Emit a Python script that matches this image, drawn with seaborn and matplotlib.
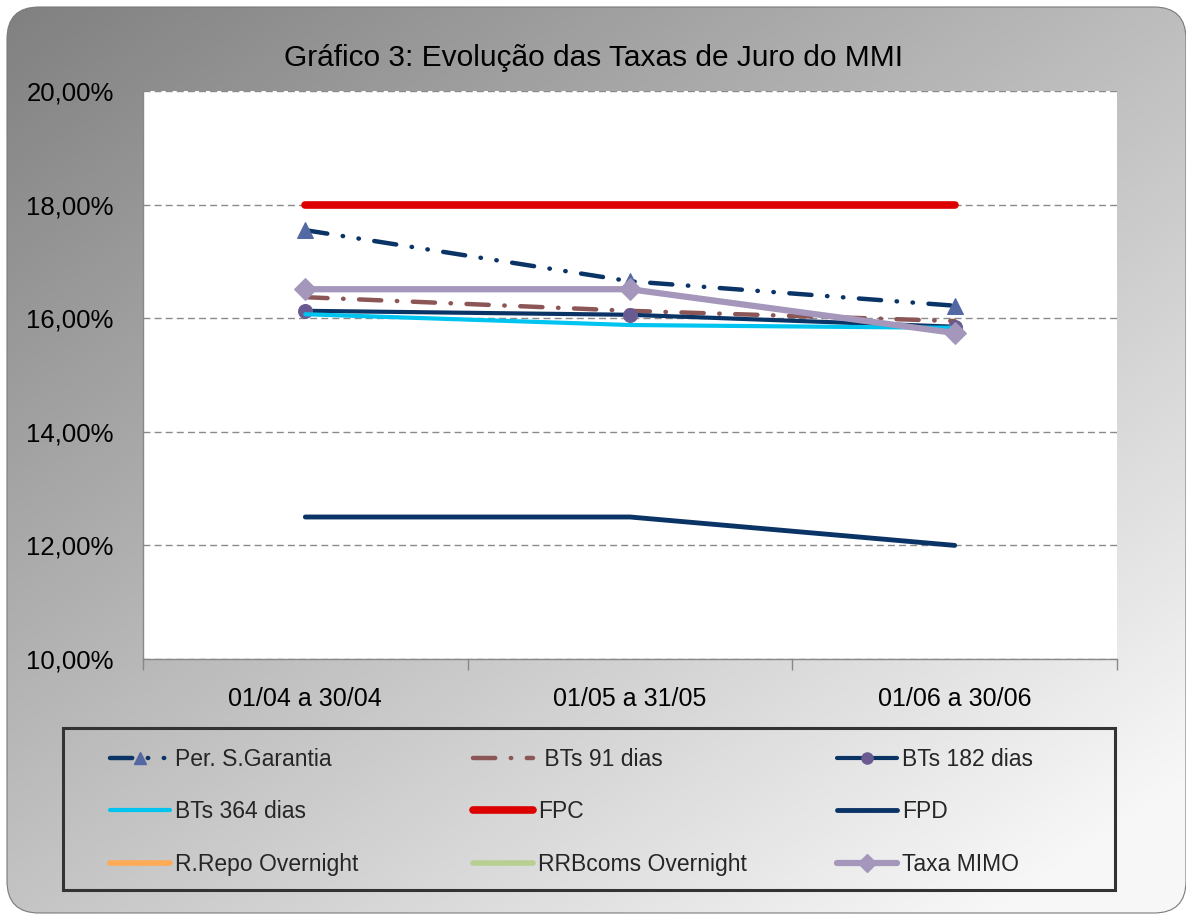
import numpy as np
import matplotlib
matplotlib.use("Agg")
import matplotlib.pyplot as plt
import seaborn as sns
from matplotlib import font_manager
from matplotlib.patches import FancyBboxPatch, Rectangle
from matplotlib.lines import Line2D
from matplotlib.ticker import FuncFormatter, FixedLocator

# ---------------- data ----------------
periods = ["01/04 a 30/04", "01/05 a 31/05", "01/06 a 30/06"]
per_s_garantia = [17.55, 16.65, 16.22]
bts_91 = [16.37, 16.13, 15.95]
bts_182 = [16.13, 16.06, 15.85]
bts_364 = [16.07, 15.88, 15.83]
fpc = [18.0, 18.0, 18.0]
fpd = [12.5, 12.5, 12.0]
r_repo = [np.nan, np.nan, 15.76]
rrbcoms = [np.nan, np.nan, 15.76]
taxa_mimo = [16.51, 16.51, 15.74]
title = "Gráfico 3: Evolução das Taxas de Juro do MMI"
yticks = [10, 12, 14, 16, 18, 20]

sns.set_theme(style="white")
names = {f.name for f in font_manager.fontManager.ttflist}
narrow = "Liberation Sans Narrow" in names
if narrow:
    fam = ["Liberation Sans Narrow", "Liberation Sans", "DejaVu Sans"]
else:
    fam = ["Liberation Sans", "DejaVu Sans"]
plt.rcParams['font.family'] = fam
k = 1.0 if not narrow else 1.15  # size factor

W, H = 1186, 918
fig = plt.figure(figsize=(W / 100, H / 100), dpi=100)
fig.patch.set_facecolor("white")

# background gradient frame (pixel coordinates)
bg = fig.add_axes([0, 0, 1, 1], zorder=-10)
bg.set_xlim(0, W); bg.set_ylim(H, 0); bg.axis("off")
gx, gy = np.meshgrid(np.linspace(0, 1, 400), np.linspace(0, 1, 400))
grad = 0.50 + 0.24 * gx + 0.27 * gy
grad = np.clip(grad, 0, 0.97)
img = bg.imshow(np.dstack([grad, grad, grad]), extent=[0, W, H, 0],
                aspect="auto", zorder=0, interpolation="bilinear")
frame = FancyBboxPatch((7, 7), W - 7 + 0, H - 12,
                       boxstyle="round,pad=0,rounding_size=32",
                       facecolor="none", edgecolor="#7a7a7a", linewidth=0.8, zorder=2)
bg.add_patch(frame)
img.set_clip_path(frame)

# legend frame
bg.add_patch(Rectangle((63, 728), 1115 - 63, 890 - 728, facecolor="none",
                       edgecolor="#333333", linewidth=2.2, zorder=3))

# main axes
L, R, T, B = 143, 1117, 91, 659
ax = fig.add_axes([L / W, 1 - B / H, (R - L) / W, (B - T) / H])
ax.set_facecolor("white")

series = [
    ("Per. S.Garantia", per_s_garantia, dict(color="#0b3466", lw=3.2, ls=(0, (5, 3.5, 0.1, 3.5, 0.1, 3.5)),
                                             marker="^", ms=11, mfc="#5468a3", mec="#5468a3")),
    ("BTs 91 dias", bts_91, dict(color="#8c5656", lw=3.2, ls=(0, (5, 3.5, 0.1, 3.5)), marker=None)),
    ("BTs 182 dias", bts_182, dict(color="#0b3466", lw=3.0, ls="-", marker="o", ms=10,
                                   mfc="#6a5a92", mec="#6a5a92")),
    ("BTs 364 dias", bts_364, dict(color="#00c4f0", lw=3.0, ls="-", marker=None)),
    ("FPC", fpc, dict(color="#dd0000", lw=5.5, ls="-", marker=None)),
    ("FPD", fpd, dict(color="#0b3466", lw=3.5, ls="-", marker=None)),
    ("R.Repo Overnight", r_repo, dict(color="#ffaa55", lw=4.0, ls="-", marker=None)),
    ("RRBcoms Overnight", rrbcoms, dict(color="#b8cf92", lw=4.0, ls="-", marker=None)),
    ("Taxa MIMO", taxa_mimo, dict(color="#a497bb", lw=4.5, ls="-", marker="D", ms=11,
                                  mfc="#a497bb", mec="#a497bb")),
]

handles = {}
for name, vals, st in series:
    sns.lineplot(x=periods, y=vals, ax=ax, color=st["color"], linewidth=st["lw"],
                 linestyle=st["ls"], marker=st["marker"] if st["marker"] else None,
                 markersize=st.get("ms", 0), markerfacecolor=st.get("mfc"),
                 markeredgecolor=st.get("mec"), solid_capstyle="round",
                 dash_capstyle="round", sort=False, legend=False)
    handles[name] = Line2D([], [], color=st["color"], linewidth=st["lw"], linestyle=st["ls"],
                           marker=st["marker"], markersize=st.get("ms", 0) * 0.8,
                           markerfacecolor=st.get("mfc"), markeredgecolor=st.get("mec"),
                           solid_capstyle="round", dash_capstyle="round")

ax.set_xlim(-0.5, 2.5)
ax.set_ylim(10, 20)
ax.set_xlabel(""); ax.set_ylabel("")
ax.yaxis.set_major_locator(FixedLocator(yticks))
ax.yaxis.set_major_formatter(FuncFormatter(lambda v, p: f"{v:.2f}".replace(".", ",") + "%"))
ax.grid(axis="y", color="#8a8a8a", linestyle=(0, (5, 3)), linewidth=1.0)
ax.set_axisbelow(True)
for s in ["top", "right"]:
    ax.spines[s].set_visible(False)
for s in ["left", "bottom"]:
    ax.spines[s].set_color("#888888")
    ax.spines[s].set_linewidth(1.0)
ax.set_xticks([0, 1, 2])
ax.set_xticklabels(periods)
ax.set_xticks([-0.5, 0.5, 1.5, 2.5], minor=True)
ax.tick_params(axis="x", which="major", length=0, pad=20, labelsize=18 * k, labelcolor="black")
ax.tick_params(axis="x", which="minor", length=8, color="#888888", width=1, bottom=True, direction="out")
ax.tick_params(axis="y", which="major", length=0, pad=21, labelsize=18.5 * k, labelcolor="black")

fig.text(0.5, 1 - 58 / H, title, ha="center", va="center", fontsize=21.5 * k, color="black")

cols = [
    (110, ["Per. S.Garantia", "BTs 364 dias", "R.Repo Overnight"]),
    (473, ["BTs 91 dias", "FPC", "RRBcoms Overnight"]),
    (837, ["BTs 182 dias", "FPD", "Taxa MIMO"]),
]
for x0, labs in cols:
    shown = [(" " + l if l == "BTs 91 dias" else l) for l in labs]
    lg = fig.legend([handles[n] for n in labs], shown, loc="center left",
                    bbox_to_anchor=(x0 / W, 1 - 812 / H), frameon=False,
                    fontsize=16.5 * k, handlelength=2.6 / k, handletextpad=0.22,
                    labelspacing=1.3, borderpad=0, borderaxespad=0)

fig.savefig("out.png", dpi=100)
